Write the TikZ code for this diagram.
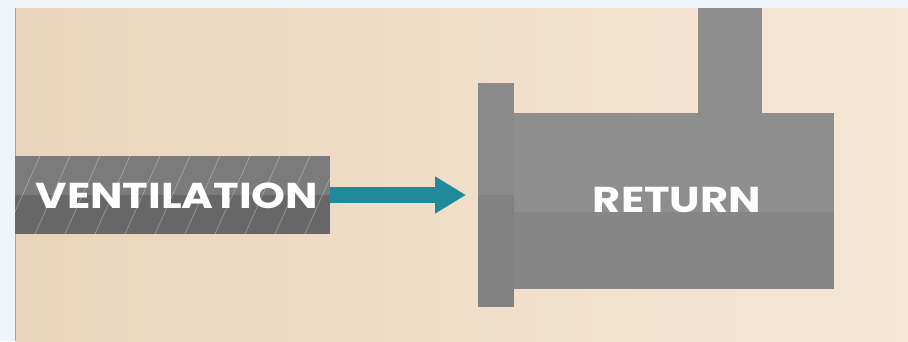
\documentclass[tikz,border=0pt]{standalone}
\usepackage{fontspec}
\setmainfont{Poppins}
\usetikzlibrary{arrows.meta,calc}
\definecolor{frame}{HTML}{EEF5F8}
\definecolor{beigeL}{HTML}{EAD5BC}
\definecolor{beigeR}{HTML}{F6E7D6}
\definecolor{ventTop}{HTML}{7B7B7B}
\definecolor{ventBot}{HTML}{676767}
\definecolor{retTop}{HTML}{8E8E8E}
\definecolor{retBot}{HTML}{868686}
\definecolor{flTop}{HTML}{8A8A8A}
\definecolor{flBot}{HTML}{818181}
\definecolor{teal}{HTML}{1F8A9A}
\tikzset{
  label text/.style={text=white, font=\bfseries\fontsize{36}{36}\selectfont, inner sep=0pt},
  pipe/.style={inner sep=0pt, outer sep=0pt},
}
\begin{document}
\begin{tikzpicture}[x=1pt,y=-1pt]
\useasboundingbox (0,0) rectangle (908,341);
% frame and paper
\fill[frame] (0,0) rectangle (908,341);
\shade[left color=beigeL, right color=beigeR] (16,8) rectangle (908,341);
\draw[gray!70, line width=0.8pt] (15.5,8) -- (15.5,341);
% ventilation pipe
\node[pipe, minimum width=315, minimum height=78, anchor=north west] (vent) at (15,156) {};
\fill[ventTop] (vent.north west) rectangle (vent.east);
\fill[ventBot] (vent.west) rectangle (vent.south east);
\begin{scope}
\clip (vent.north west) rectangle (vent.south east);
\foreach \i in {0,...,12}
  \draw[white, opacity=0.35, line width=0.6pt] (5+\i*30,234) -- (40+\i*30,156);
\end{scope}
\node[label text, anchor=base] (ventlabel) at (177,208) {\scalebox{1.2}[1]{VENTILATION}};
% return unit
\node[pipe, minimum width=64, minimum height=105, anchor=north west] (chim) at (698,8) {};
\fill[retTop] (chim.north west) rectangle (chim.south east);
\node[pipe, minimum width=320, minimum height=176, anchor=north west] (ret) at (514,113) {};
\fill[retTop] (ret.north west) rectangle (834,212);
\fill[retBot] (514,212) rectangle (ret.south east);
\node[pipe, minimum width=36, minimum height=224, anchor=north west] (flange) at (478,83) {};
\fill[flTop] (flange.north west) rectangle (514,195);
\fill[flBot] (478,195) rectangle (flange.south east);
\node[label text, anchor=base] (retlabel) at (677,212) {\scalebox{1.2}[1]{RETURN}};
% arrow
\coordinate (tip) at ($(flange.west |- vent.east)+(-12,0)$);
\draw[teal, line width=16pt, -{Triangle[length=31pt, width=35pt]}] (vent.east) -- (tip);
\end{tikzpicture}
\end{document}
